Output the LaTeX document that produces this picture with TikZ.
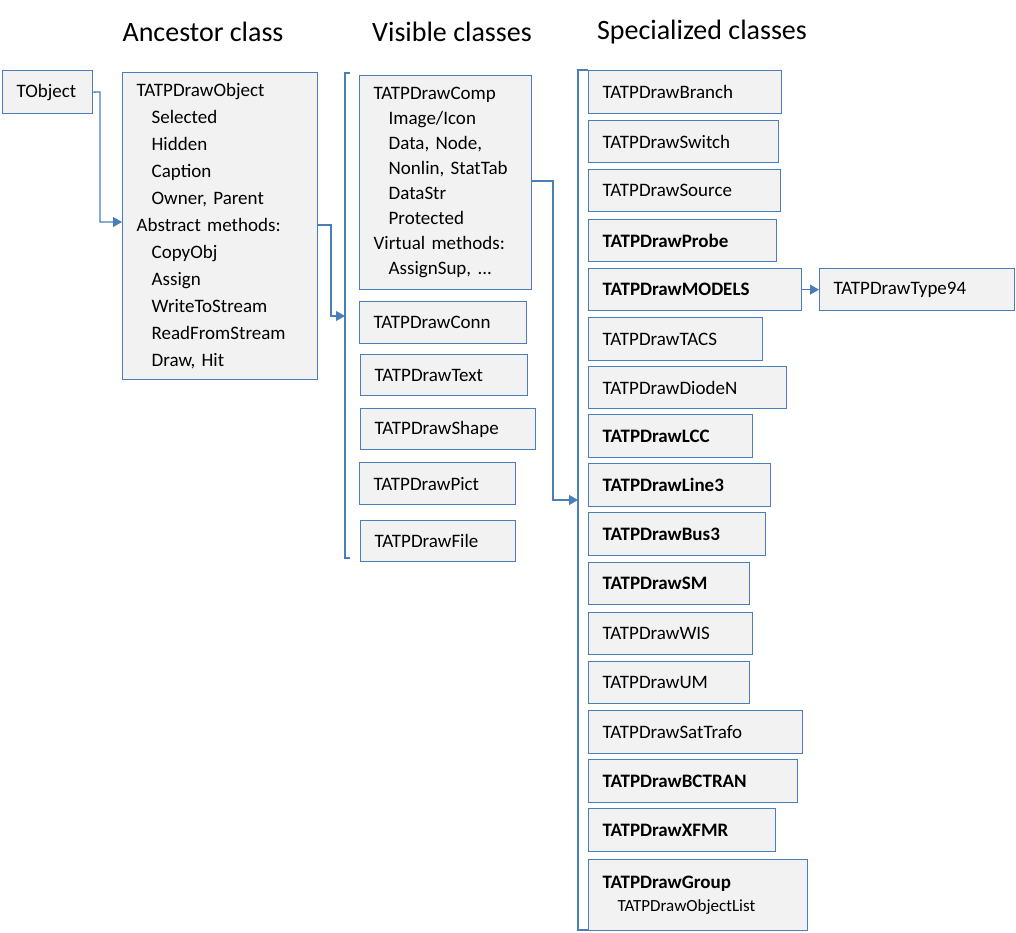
\documentclass[tikz,border=0pt]{standalone}
\usepackage{fontspec}
\setmainfont{Carlito}
\usetikzlibrary{arrows.meta}
\definecolor{bl}{HTML}{4A7EBB}
\definecolor{bg}{HTML}{F2F2F2}
\tikzset{
 box/.style={draw=bl,fill=bg,line width=1.3pt,anchor=north west,align=left,inner xsep=14pt,inner ysep=0pt,font=\fontsize{19}{27}\selectfont},
 con/.style={draw=bl,line width=1.3pt},
 arr/.style={con,-{Triangle[length=9pt,width=10pt]}},
 hdr/.style={font=\fontsize{28}{32}\selectfont}
}
\newcommand{\bx}[6]{\pgfmathsetmacro{\ww}{#4-#2-28}\pgfmathsetmacro{\hh}{#5-#3}%
 \node[box,text width=\ww pt,minimum height=\hh pt] (#1) at (#2,#3) {#6};}
\begin{document}
\begin{tikzpicture}[x=1pt,y=-1pt]
\useasboundingbox (0,0) rectangle (1016,933);
\node[hdr] (h1) at (203,32) {Ancestor class};
\node[hdr] (h2) at (452,32) {Visible classes};
\node[hdr] (h3) at (702,32) {Specialized classes};
\bx{tob}{2}{70}{92}{113}{TObject}
\bx{obj}{122}{72}{317}{379}{TATPDrawObject\\\hspace*{15pt}Selected\\\hspace*{15pt}Hidden\\\hspace*{15pt}Caption\\\hspace*{15pt}Owner, Parent\\Abstract methods:\\\hspace*{15pt}CopyObj\\\hspace*{15pt}Assign\\\hspace*{15pt}WriteToStream\\\hspace*{15pt}ReadFromStream\\\hspace*{15pt}Draw, Hit}
\node[box,text width=144pt,minimum height=214pt,font=\fontsize{19}{25}\selectfont] (comp) at (359,75) {TATPDrawComp\\\hspace*{15pt}Image/Icon\\\hspace*{15pt}Data, Node,\\\hspace*{15pt}Nonlin, StatTab\\\hspace*{15pt}DataStr\\\hspace*{15pt}Protected\\Virtual methods:\\\hspace*{15pt}AssignSup, ...};
\bx{conn}{359}{301}{526}{343}{TATPDrawConn}
\bx{text}{360}{354}{527}{395}{TATPDrawText}
\bx{shape}{360}{408}{535}{449}{TATPDrawShape}
\bx{pict}{359}{462}{515}{504}{TATPDrawPict}
\bx{file}{360}{520}{515}{561}{TATPDrawFile}
\bx{branch}{588}{70}{781}{113}{TATPDrawBranch}
\bx{switch}{588}{120}{778}{162}{TATPDrawSwitch}
\bx{source}{588}{169}{780}{211}{TATPDrawSource}
\bx{probe}{588}{219}{776}{261}{\textbf{TATPDrawProbe}}
\bx{models}{588}{268}{801}{310}{\textbf{TATPDrawMODELS}}
\bx{t94}{819}{268}{1014}{310}{TATPDrawType94}
\bx{tacs}{588}{317}{762}{360}{TATPDrawTACS}
\bx{diode}{588}{366}{786}{408}{TATPDrawDiodeN}
\bx{lcc}{588}{414}{752}{457}{\textbf{TATPDrawLCC}}
\bx{line3}{588}{463}{770}{506}{\textbf{TATPDrawLine3}}
\bx{bus3}{588}{512}{765}{555}{\textbf{TATPDrawBus3}}
\bx{sm}{588}{562}{749}{604}{\textbf{TATPDrawSM}}
\bx{wis}{588}{612}{752}{654}{TATPDrawWIS}
\bx{um}{588}{661}{749}{703}{TATPDrawUM}
\bx{sat}{588}{710}{802}{753}{TATPDrawSatTrafo}
\bx{bct}{588}{759}{797}{802}{\textbf{TATPDrawBCTRAN}}
\bx{xfmr}{588}{808}{775}{851}{\textbf{TATPDrawXFMR}}
\node[box,text width=191pt,minimum height=71pt,font=\fontsize{19}{23}\selectfont] (grp) at (588,859) {\textbf{TATPDrawGroup}\\\hspace*{15pt}{\fontsize{17}{20}\selectfont TATPDrawObjectList}};
% brackets
\coordinate (b1t) at (345,73); \coordinate (b1b) at (345,558);
\draw[con] ([xshift=5pt]b1t) -- (b1t) -- (b1b) -- ([xshift=5pt]b1b);
\coordinate (b2t) at (578,70); \coordinate (b2b) at (578,930);
\draw[con] ([xshift=10pt]b2t) -- (b2t) -- (b2b) -- ([xshift=10pt]b2b);
% connectors
\coordinate (a1) at (122,222);
\draw[arr] (tob.east) -- (100,92) |- (a1);
\coordinate (a2) at (345,316);
\draw[arr] (317,225) -- (331,225) |- (a2);
\coordinate (a3) at (578,500);
\draw[arr] (531,181) -- (553,181) |- (a3);
\draw[arr] (models.east) -- (t94.west);
\end{tikzpicture}
\end{document}
